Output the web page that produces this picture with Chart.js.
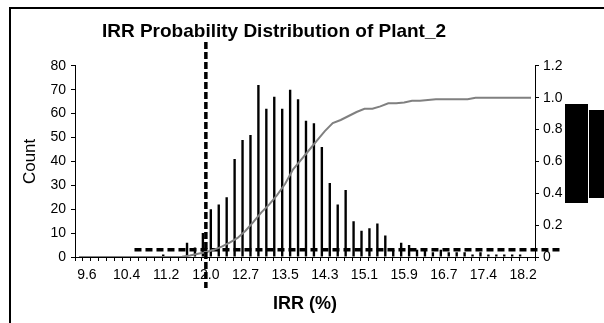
<!DOCTYPE html>
<html>
<head>
<meta charset="utf-8">
<script src="https://cdn.jsdelivr.net/npm/chart.js@4"></script>
<style>
  html, body { margin: 0; padding: 0; background: #fff; overflow: hidden; }
  #wrap { position: relative; width: 604px; height: 323px; }
  #frame { position: absolute; left: 9px; top: 7px; width: 700px; height: 400px;
           border: 2px solid #000; pointer-events: none; }
  canvas { position: absolute; left: 0; top: 0; }
</style>
</head>
<body>
<div id="wrap">
  <canvas id="irr-chart" width="604" height="323"></canvas>
  <div id="frame"></div>
</div>
<script>
// x tick labels shown under the histogram (IRR %)
const tickLabels = ['9.6', '10.4', '11.2', '12.0', '12.7', '13.5', '14.3', '15.1', '15.9', '16.7', '17.4', '18.2'];

// histogram counts per IRR bin
const counts = [
    0, 0, 0, 0, 0, 0, 0, 0, 0, 0, 0, 1, 0, 0, 6, 4,
    10, 20, 22, 25, 41, 49, 51, 72, 62, 67, 62, 70, 66, 57, 56, 46,
    31, 22, 28, 15, 11, 12, 14, 9, 3, 6, 5, 3, 3, 2, 3, 2,
    2, 2, 1, 2, 1, 1, 1, 1, 1, 0
];

// cumulative probability (right axis)
const cumulative = [
    0, 0, 0, 0, 0, 0, 0, 0, 0, 0, 0, 0, 0, 0.002, 0.01, 0.02,
    0.03, 0.045, 0.065, 0.09, 0.12, 0.165, 0.22, 0.28, 0.33, 0.39, 0.46, 0.55, 0.61, 0.67, 0.73, 0.79,
    0.84, 0.86, 0.885, 0.91, 0.93, 0.93, 0.945, 0.965, 0.965, 0.97, 0.98, 0.98, 0.985, 0.99, 0.99, 0.99,
    0.99, 0.99, 1, 1, 1, 1, 1, 1, 1, 1
];

// threshold IRR line (vertical) and low count reference line (horizontal)
const thresholdLabel = '12.0';
const thresholdSpan = [90, -13];
const refLevel = 3;
const refSpan = [7, 61];

document.addEventListener("DOMContentLoaded", () => {

    // one category per bin, label printed every 5th bin
    const categories = counts.map((c, i) => (i - 1) % 5 === 0 ? tickLabels[(i - 1) / 5] : '');
    const thrIdx = categories.indexOf(thresholdLabel);

    // legend boxes that stick out on the right of the original,
    // and the title centred on the (wider, cropped) excel chart area
    const excelBits = {
        id: 'excelBits',
        afterLayout(chart) {
            chart.titleBlock.right = chart.titleBlock.left + 548;
        },
        afterDraw(chart) {
            const ctx = chart.ctx;
            ctx.save();
            ctx.fillStyle = '#000';
            ctx.fillRect(565, 104, 23, 99);
            ctx.fillRect(589, 110, 15, 88);
            ctx.restore();
        }
    };

    Chart.defaults.font.family = "'Liberation Sans', Arial, sans-serif";
    Chart.defaults.color = '#000';

    const canvas = document.getElementById("irr-chart");

    new Chart(canvas, {
        type: 'bar',
        data: {
            labels: categories,
            datasets: [
                {
                    // empty slot, pushes the bars right like the clustered original
                    label: 'spacer',
                    data: [],
                    backgroundColor: 'rgba(0,0,0,0)',
                    order: 5
                },
                {
                    label: 'Count',
                    data: counts,
                    backgroundColor: '#000',
                    borderWidth: 0,
                    barPercentage: 1.2,
                    categoryPercentage: 1.0,
                    order: 4
                },
                {
                    type: 'line',
                    label: 'Cumulative',
                    data: cumulative,
                    yAxisID: 'y2',
                    borderColor: '#808080',
                    borderWidth: 2,
                    pointRadius: 0,
                    tension: 0,
                    order: 1
                },
                {
                    type: 'line',
                    label: 'Reference',
                    data: refSpan.map(x => ({x: x, y: refLevel})),
                    xAxisID: 'xl',
                    yAxisID: 'y',
                    borderColor: '#000',
                    borderWidth: 3.5,
                    borderDash: [7, 4],
                    pointRadius: 0,
                    clip: false,
                    order: 2
                },
                {
                    type: 'line',
                    label: 'Threshold',
                    data: thresholdSpan.map(v => ({x: thrIdx, y: v})),
                    xAxisID: 'xl',
                    yAxisID: 'y',
                    borderColor: '#000',
                    borderWidth: 3.5,
                    borderDash: [7, 3],
                    pointRadius: 0,
                    clip: false,
                    order: 0
                }
            ]
        },
        options: {
            responsive: false,
            animation: false,
            layout: { padding: 0 },
            plugins: {
                legend: { display: false },
                tooltip: { enabled: false },
                title: {
                    display: true,
                    text: 'IRR Probability Distribution of Plant_2',
                    font: { size: 19, weight: 'bold' },
                    padding: { top: 20, bottom: 23 }
                }
            },
            scales: {
                x: {
                    offset: true,
                    grid: { display: true, drawOnChartArea: false, drawTicks: true, tickLength: 4, color: '#000', offset: true },
                    border: { display: true, color: '#000', width: 1 },
                    ticks: { autoSkip: false, maxRotation: 0, minRotation: 0, padding: 6, font: { size: 14 } },
                    title: { display: true, text: 'IRR (%)', font: { size: 18, weight: 'bold' }, padding: { top: 0, bottom: 8 } },
                    afterFit: s => { s.height = 66; }
                },
                // same bin mapping as x, numeric, used for the two dashed guide lines
                xl: {
                    type: 'linear',
                    position: 'bottom',
                    offset: false,
                    min: -0.5,
                    max: counts.length - 0.5,
                    ticks: { display: false },
                    grid: { display: false, offset: false },
                    border: { display: false },
                    afterFit: s => { s.height = 0; }
                },
                y: {
                    position: 'left',
                    min: 0,
                    max: 80,
                    ticks: { stepSize: 10, padding: 5, font: { size: 14 } },
                    grid: { display: true, drawOnChartArea: false, drawTicks: true, tickLength: 4, color: '#000' },
                    border: { display: true, color: '#000', width: 1 },
                    title: { display: true, text: 'Count', font: { size: 17 }, padding: { top: 20 } },
                    afterFit: s => { s.width = 75; }
                },
                y2: {
                    position: 'right',
                    min: 0,
                    max: 1.2,
                    ticks: { stepSize: 0.2, padding: 4, font: { size: 14 } },
                    grid: { display: true, drawOnChartArea: false, drawTicks: true, tickLength: 4, color: '#000' },
                    border: { display: true, color: '#000', width: 1 },
                    afterFit: s => { s.width = 69; }
                }
            }
        },
        plugins: [excelBits]
    });
});
</script>
</body>
</html>
